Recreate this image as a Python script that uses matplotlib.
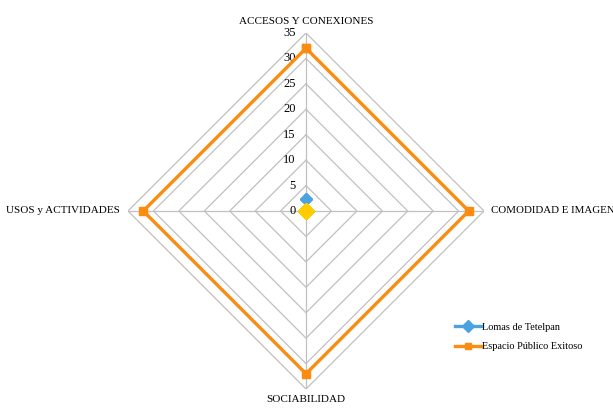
import numpy as np
import matplotlib
matplotlib.use("Agg")
import matplotlib.pyplot as plt
from matplotlib.lines import Line2D

# datos
categorias = ["ACCESOS Y CONEXIONES", "COMODIDAD E IMAGEN", "SOCIABILIDAD", "USOS y ACTIVIDADES"]
lomas = [2.4, 0, 0, 0]
exitoso = [32, 32, 32, 32]
base = [0, 0, 0, 0]
ticks = [0, 5, 10, 15, 20, 25, 30, 35]

plt.rcParams['font.family'] = ['Liberation Serif', 'DejaVu Serif']

# angulos: arriba, derecha, abajo, izquierda
ang = np.pi / 2 - np.arange(len(categorias)) * 2 * np.pi / len(categorias)

def xy(vals):
    v = np.array(list(vals) + [vals[0]], dtype=float)
    a = np.append(ang, ang[0])
    return v * np.cos(a), v * np.sin(a)

fig = plt.figure(figsize=(6.13, 4.08), dpi=100)
ax = fig.add_axes([0.2088, 0.0466, 0.5808, 0.8725])
ax.set_xlim(-35, 35)
ax.set_ylim(-35, 35)
ax.axis("off")

gris = "#c0c0c0"
for t in ticks[1:]:
    gx, gy = xy([t] * 4)
    ax.plot(gx, gy, color=gris, lw=0.9, zorder=1)
for a in ang:
    ax.plot([0, 35 * np.cos(a)], [0, 35 * np.sin(a)], color=gris, lw=0.9, zorder=1)

for t in ticks:
    ax.text(-2.0, t, str(t), ha="right", va="center", fontsize=9)

ox, oy = xy(exitoso)
ax.plot(ox, oy, color="#fb8c10", lw=2.4, marker="s", ms=6, zorder=3)
lx, ly = xy(lomas)
ax.plot(lx, ly, color="#4aa3e0", lw=2.4, marker="D", ms=6, zorder=4)
ax.plot(base, base, ls="none", marker="D", ms=8, color="#ffcc00", zorder=5)

ax.text(0, 36.3, categorias[0], ha="center", va="bottom", fontsize=8)
ax.text(36.3, 0, categorias[1], ha="left", va="center", fontsize=7.8)
ax.text(0, -36.2, categorias[2], ha="center", va="top", fontsize=8)
ax.text(-36.5, 0, categorias[3], ha="right", va="center", fontsize=8)

handles = [Line2D([], [], color="#4aa3e0", lw=2.4, marker="D", ms=6),
           Line2D([], [], color="#fb8c10", lw=2.4, marker="s", ms=5)]
fig.legend(handles, ["Lomas de Tetelpan", "Espacio Público Exitoso"],
           loc="upper left", bbox_to_anchor=(0.727, 0.232), frameon=False,
           fontsize=7.4, handlelength=2.6, handletextpad=0.05, labelspacing=1.0)

fig.savefig("out.png", dpi=100)
